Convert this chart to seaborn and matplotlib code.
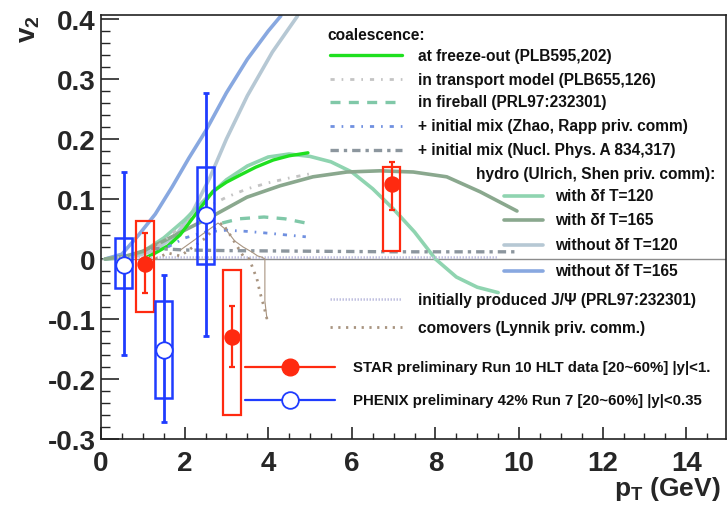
import matplotlib
matplotlib.use("Agg")
import matplotlib.pyplot as plt
from matplotlib.lines import Line2D
from matplotlib.patches import Rectangle
from matplotlib.ticker import MultipleLocator, FuncFormatter
import pandas as pd
import seaborn as sns

sns.set_style("ticks")
plt.rcParams["font.family"] = ["Liberation Sans", "DejaVu Sans"]
plt.rcParams["font.weight"] = "bold"
plt.rcParams["mathtext.fontset"] = "custom"
plt.rcParams["mathtext.rm"] = "Liberation Sans:bold"
plt.rcParams["mathtext.it"] = "Liberation Sans:bold"
plt.rcParams["mathtext.bf"] = "Liberation Sans:bold"

# ---------------- measured J/psi v2 ----------------
star_pt = [1.05, 3.14, 6.95]
star_v2 = [-0.008, -0.13, 0.125]
star_stat_low = [-0.057, -0.18, 0.082]
star_stat_high = [0.043, -0.078, 0.162]
star_sys_low = [-0.088, -0.26, 0.013]
star_sys_high = [0.063, -0.018, 0.153]

phenix_pt = [0.54, 1.5, 2.5]
phenix_v2 = [-0.01, -0.152, 0.073]
phenix_stat_low = [-0.16, -0.272, -0.128]
phenix_stat_high = [0.145, -0.027, 0.277]
phenix_sys_low = [-0.048, -0.232, -0.008]
phenix_sys_high = [0.035, -0.07, 0.153]

# ---------------- model curves ----------------
hydro_wo165_pt = [0.1, 0.5, 0.9, 1.3, 1.7, 2.1, 2.5, 3.0, 3.5, 4.0, 4.3]
hydro_wo165_v2 = [0.0, 0.008, 0.04, 0.075, 0.12, 0.168, 0.213, 0.277, 0.333, 0.38, 0.405]

hydro_wo120_pt = [0.1, 0.8, 1.3, 1.8, 2.2, 2.6, 3.0, 3.5, 4.1, 4.7]
hydro_wo120_v2 = [0.0, 0.004, 0.015, 0.04, 0.08, 0.135, 0.2, 0.272, 0.345, 0.405]

hydro_w120_pt = [0.1, 0.6, 1.0, 1.5, 2.0, 2.5, 3.0, 3.5, 4.0, 4.5, 5.0, 5.5, 6.0,
                 6.5, 7.0, 7.5, 8.0, 8.5, 9.0, 9.5]
hydro_w120_v2 = [0.0, 0.003, 0.012, 0.035, 0.065, 0.1, 0.132, 0.155, 0.17, 0.175,
                 0.171, 0.162, 0.145, 0.117, 0.083, 0.045, 0.0, -0.03, -0.047, -0.056]

hydro_w165_pt = [0.1, 0.6, 1.0, 1.5, 2.0, 2.68, 3.49, 4.28, 5.07, 5.88, 6.67, 7.47,
                 8.27, 9.07, 9.95]
hydro_w165_v2 = [0.0, 0.005, 0.013, 0.03, 0.048, 0.072, 0.103, 0.122, 0.137, 0.145,
                 0.147, 0.145, 0.137, 0.112, 0.08]

freezeout_pt = [1.0, 1.3, 1.6, 1.89, 2.3, 2.68, 3.0, 3.33, 3.7, 4.12, 4.5, 4.95]
freezeout_v2 = [0.0, 0.01, 0.022, 0.04, 0.078, 0.113, 0.128, 0.14, 0.153, 0.165, 0.172, 0.177]

transport_pt = [1.0, 1.5, 2.0, 2.5, 3.0, 3.5, 4.0, 4.5, 5.0]
transport_v2 = [0.0, 0.03, 0.06, 0.085, 0.103, 0.117, 0.127, 0.135, 0.142]

fireball_pt = [2.9, 3.3, 3.9, 4.4, 4.9]
fireball_v2 = [0.06, 0.067, 0.07, 0.067, 0.06]

mix_zr_pt = [1.6, 2.0, 2.5, 3.0, 3.5, 4.0, 4.9]
mix_zr_v2 = [0.02, 0.035, 0.045, 0.048, 0.046, 0.043, 0.037]

mix_np_pt = [1.2, 2.0, 3.0, 5.0, 7.0, 10.0]
mix_np_v2 = [0.018, 0.015, 0.014, 0.013, 0.012, 0.012]

initial_pt = [0.3, 9.5]
initial_v2 = [0.003, 0.003]

comover_pt = [1.3, 1.6, 1.9, 2.2, 2.5, 2.7, 2.9, 3.09, 3.25, 3.4, 3.55, 3.64,
              3.73, 3.8, 3.9, 3.97]
comover_v2 = [0.0, 0.01, 0.005, 0.02, 0.035, 0.05, 0.06, 0.04, 0.022, 0.005, 0.0,
              -0.017, -0.033, -0.055, -0.08, -0.1]
comover_band_pt = [1.9, 2.2, 2.5, 2.8, 3.0, 3.2, 3.4, 3.6, 3.75, 3.85, 3.92, 3.92, 3.97]
comover_band_v2 = [0.015, 0.03, 0.045, 0.06, 0.048, 0.03, 0.02, 0.012, 0.005, 0.003,
                   0.0, -0.07, -0.1]

W, H = 727, 506
fig = plt.figure(figsize=(W / 100, H / 100), dpi=100)
ax = fig.add_axes([101 / W, 1 - 440 / H, 625 / W, 424 / H])


def fx(x):
    return x / W


def fy(y):
    return 1 - y / H


def curve(pt, v2, **kw):
    df = pd.DataFrame({"pt": pt, "v2": v2})
    sns.lineplot(data=df, x="pt", y="v2", ax=ax, sort=False, estimator=None,
                 legend=False, **kw)


ax.axhline(0, color="#8c8c8c", lw=1.0, zorder=1)

styles = {
    "wo165": dict(color="#88a8e0", lw=2.6, ls="-"),
    "wo120": dict(color="#b6c8d4", lw=2.6, ls="-"),
    "w120": dict(color="#8fd4b0", lw=2.6, ls="-"),
    "w165": dict(color="#8aa88e", lw=2.6, ls="-"),
    "freeze": dict(color="#1fe01f", lw=2.4, ls="-"),
    "transport": dict(color="#c4c4c4", lw=2.0, ls=(0, (1.5, 2.5, 0.6, 2.5))),
    "fireball": dict(color="#80c8a8", lw=2.4, ls=(0, (3, 2.5))),
    "zr": dict(color="#7090e0", lw=2.0, ls=(0, (1.5, 2.5, 0.6, 2.5))),
    "np": dict(color="#8c969e", lw=2.4, ls=(0, (2.5, 1.5, 1, 1.5))),
    "initial": dict(color="#c0c0e0", lw=1.8, ls=(0, (0.6, 0.6))),
    "comover": dict(color="#a89480", lw=2.0, ls=(0, (0.8, 2))),
}

curve(hydro_wo165_pt, hydro_wo165_v2, **styles["wo165"])
curve(hydro_wo120_pt, hydro_wo120_v2, **styles["wo120"])
curve(hydro_w120_pt, hydro_w120_v2, **styles["w120"])
curve(hydro_w165_pt, hydro_w165_v2, **styles["w165"])
curve(transport_pt, transport_v2, **styles["transport"])
curve(freezeout_pt, freezeout_v2, **styles["freeze"])
curve(fireball_pt, fireball_v2, **styles["fireball"])
curve(mix_zr_pt, mix_zr_v2, **styles["zr"])
curve(mix_np_pt, mix_np_v2, **styles["np"])
curve(initial_pt, initial_v2, **styles["initial"])
curve(comover_pt, comover_v2, **styles["comover"])
curve(comover_band_pt, comover_band_v2, color="#a89480", lw=0.8, ls="-")

# data points: systematic boxes, statistical bars, markers
half_w = 0.21
star_col = "#ff2a10"
phx_col = "#1f3cff"
for pt, lo, hi in zip(star_pt, star_sys_low, star_sys_high):
    ax.add_patch(Rectangle((pt - half_w, lo), 2 * half_w, hi - lo, fill=False,
                           ec=star_col, lw=1.6, zorder=5))
for pt, lo, hi in zip(phenix_pt, phenix_sys_low, phenix_sys_high):
    ax.add_patch(Rectangle((pt - half_w, lo), 2 * half_w, hi - lo, fill=False,
                           ec=phx_col, lw=1.8, zorder=5))

star_err = [[v - l for v, l in zip(star_v2, star_stat_low)],
            [h - v for v, h in zip(star_v2, star_stat_high)]]
phx_err = [[v - l for v, l in zip(phenix_v2, phenix_stat_low)],
           [h - v for v, h in zip(phenix_v2, phenix_stat_high)]]
ax.errorbar(star_pt, star_v2, yerr=star_err, fmt="none", ecolor=star_col,
            elinewidth=1.6, capsize=2.5, capthick=1.6, zorder=6)
ax.errorbar(phenix_pt, phenix_v2, yerr=phx_err, fmt="none", ecolor=phx_col,
            elinewidth=2.0, capsize=2.5, capthick=2.0, zorder=6)
sns.scatterplot(x=star_pt, y=star_v2, ax=ax, color=star_col, s=140, marker="o",
                edgecolor=star_col, linewidth=0, zorder=7, legend=False)
sns.scatterplot(x=phenix_pt, y=phenix_v2, ax=ax, s=140, marker="o",
                facecolor="white", edgecolor=phx_col, linewidth=1.3, zorder=7,
                legend=False)

# axes
ax.set_xlim(0, 14.95)
ax.set_ylim(-0.3, 0.4067)
ax.xaxis.set_major_locator(MultipleLocator(2))
ax.xaxis.set_minor_locator(MultipleLocator(0.5))
ax.yaxis.set_major_locator(MultipleLocator(0.1))
ax.yaxis.set_minor_locator(MultipleLocator(0.02))
ax.yaxis.set_major_formatter(FuncFormatter(lambda v, p: "0" if abs(v) < 1e-9 else f"{v:.1f}"))
ax.xaxis.set_major_formatter(FuncFormatter(lambda v, p: f"{v:.0f}"))
ax.tick_params(axis="y", which="major", direction="in", length=13, width=1.2,
               labelsize=20, pad=4)
ax.tick_params(axis="y", which="minor", direction="in", length=6.5, width=1.0)
ax.tick_params(axis="x", which="major", direction="in", length=9, width=1.2,
               labelsize=20, pad=8)
ax.tick_params(axis="x", which="minor", direction="in", length=4.5, width=1.0)
for lab in ax.get_xticklabels() + ax.get_yticklabels():
    lab.set_fontweight("bold")
for s in ax.spines.values():
    s.set_linewidth(1.2)
    s.set_color("#222222")
ax.set_xlabel("")
ax.set_ylabel("")

fig.text(fx(29), fy(29), "v$_2$", rotation=90, fontsize=20, fontweight="bold",
         ha="center", va="center")
fig.text(fx(721), fy(489), "p$_T$ (GeV)", fontsize=19, fontweight="bold",
         ha="right", va="center")

# legend
leg_fs = 11.2


def leg_line(x1, x2, y, **kw):
    fig.add_artist(Line2D([fx(x1), fx(x2)], [fy(y), fy(y)],
                          transform=fig.transFigure, **kw))


def leg_text(x, y, s, fs=leg_fs):
    fig.text(fx(x), fy(y), s, fontsize=fs, fontweight="bold", ha="left",
             va="center", color="#111111")


leg_text(327, 35, "coalescence:")
rows = [
    (56, "freeze", "at freeze-out (PLB595,202)"),
    (80, "transport", "in transport model (PLB655,126)"),
    (103, "fireball", "in fireball (PRL97:232301)"),
    (127, "zr", "+ initial mix (Zhao, Rapp priv. comm)"),
    (151, "np", "+ initial mix (Nucl. Phys. A 834,317)"),
    (300, "initial", "initially produced J/\u03a8 (PRL97:232301)"),
    (328, "comover", "comovers (Lynnik priv. comm.)"),
]
for y, key, txt in rows:
    leg_line(330, 402, y, **styles[key])
    leg_text(418, y, txt)

leg_text(476, 174, "hydro (Ulrich, Shen priv. comm):")
hrows = [
    (197, "w120", "with \u03b4f T=120"),
    (221, "w165", "with \u03b4f T=165"),
    (246, "wo120", "without \u03b4f T=120"),
    (272, "wo165", "without \u03b4f T=165"),
]
for y, key, txt in hrows:
    leg_line(504, 543, y, **styles[key])
    leg_text(555, y, txt)

leg_line(245, 335, 368, color=star_col, lw=1.6)
fig.add_artist(Line2D([fx(290)], [fy(368)], transform=fig.transFigure, marker="o",
                      ms=12, color=star_col, mec=star_col, ls="none"))
leg_text(353, 368, "STAR preliminary Run 10 HLT data [20~60%] |y|<1.", fs=10.8)
leg_line(245, 335, 401, color=phx_col, lw=1.6)
fig.add_artist(Line2D([fx(290)], [fy(401)], transform=fig.transFigure, marker="o",
                      ms=12, mfc="white", mec=phx_col, mew=1.3, ls="none"))
leg_text(353, 401, "PHENIX preliminary 42% Run 7 [20~60%] |y|<0.35", fs=10.8)

fig.savefig("out.png", dpi=100)
